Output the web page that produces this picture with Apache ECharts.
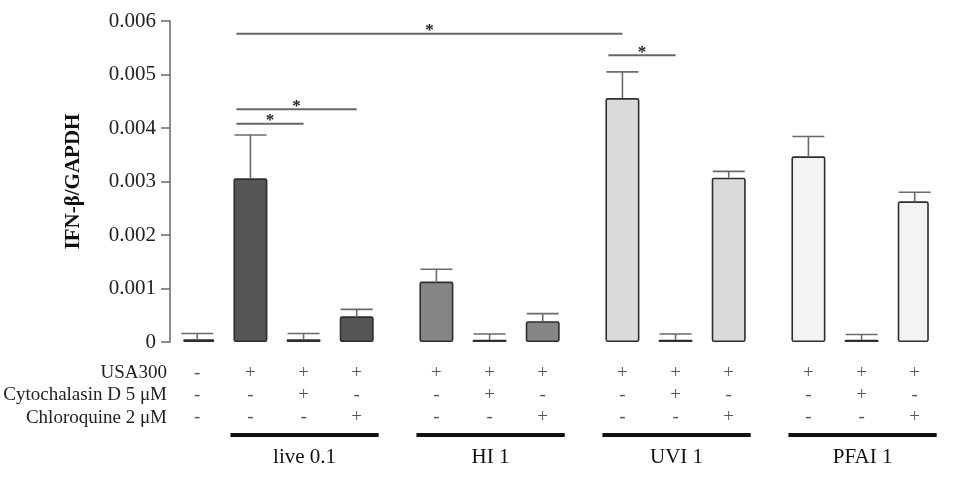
<!DOCTYPE html>
<html>
<head>
<meta charset="utf-8">
<title>IFN-β/GAPDH</title>
<script src="https://cdn.jsdelivr.net/npm/echarts@6/dist/echarts.min.js"></script>
<style>
  html, body { margin: 0; padding: 0; background: #fff; }
  #chart { width: 957px; height: 478px; }
</style>
</head>
<body>
<div id="chart"></div>
<script>
// IFN-β/GAPDH po stimulaci USA300 — 13 sloupců ve 4 skupinách + kontrola.
// Hodnoty (průměr a horní chybová úsečka).

const groupNames = ['live 0.1', 'HI 1', 'UVI 1', 'PFAI 1'];
const rowLabels = ['USA300', 'Cytochalasin D 5 μM', 'Chloroquine 2 μM'];

// jeden prvek na sloupec
const usa300       = ['-', '+', '+', '+', '+', '+', '+', '+', '+', '+', '+', '+', '+'];
const cytochalasin = ['-', '-', '+', '-', '-', '+', '-', '-', '+', '-', '-', '+', '-'];
const chloroquine  = ['-', '-', '-', '+', '-', '-', '+', '-', '-', '+', '-', '-', '+'];
const barGroup     = [-1, 0, 0, 0, 1, 1, 1, 2, 2, 2, 3, 3, 3];   // -1 = neošetřená kontrola
const ifnMean = [0.00005, 0.00306, 0.00005, 0.00048, 0.00113, 0.00004, 0.00039,
                 0.00456, 0.00004, 0.00307, 0.00347, 0.00004, 0.00263];
const ifnErr  = [0.00011, 0.00081, 0.00011, 0.00013, 0.00023, 0.00011, 0.00014,
                 0.00049, 0.00011, 0.00012, 0.00037, 0.00010, 0.00017];

const yTickLabels = ['0', '0.001', '0.002', '0.003', '0.004', '0.005', '0.006'];

// [od sloupce, po sloupec, výška čáry]
const sigBrackets = [
  [1, 7, 0.00576],
  [1, 3, 0.00435],
  [1, 2, 0.00408],
  [7, 8, 0.00536],
];

// --- styl ---
const SERIF = '"Liberation Serif", "DejaVu Serif", serif';
const groupFill = { '-1': '#565656', 0: '#565656', 1: '#858585', 2: '#dadada', 3: '#f3f3f3' };
const BAR_W = 34;

// sloupce v rámci skupiny jsou po 2 pozicích, mezi skupinami o 1 víc
const slotOf = barGroup.map((g, i) => 2 * i + Math.max(g, 0));
const slotCount = slotOf[slotOf.length - 1] + 1;
const slotBar = new Array(slotCount).fill(-1);
slotOf.forEach((s, i) => { slotBar[s] = i; });

const categories = slotBar.map((b, s) => 's' + s);
const axisLabels = slotBar.map(b => b < 0 ? '' : [usa300[b], cytochalasin[b], chloroquine[b]].join('\n'));

const barData = slotBar.map(b => b < 0 ? '-' : {
  value: ifnMean[b],
  itemStyle: { color: groupFill[barGroup[b]] },
});
const errData = ifnMean.map((m, i) => [slotOf[i], m, m + ifnErr[i]]);
const bracketData = sigBrackets.map(([a, b, h]) => [slotOf[a], slotOf[b], h]);

const chart = echarts.init(document.getElementById('chart'));

chart.setOption({
  animation: false,
  backgroundColor: '#fff',
  grid: { left: 184, right: 29, top: 21, bottom: 136 },
  xAxis: {
    type: 'category',
    data: categories,
    axisLine: { show: false },
    axisTick: { show: false },
    axisLabel: {
      interval: 0,
      margin: 20,
      formatter: (v, idx) => axisLabels[idx],
      fontFamily: SERIF,
      fontSize: 19,
      lineHeight: 22,
      color: '#555',
    },
  },
  yAxis: {
    type: 'value',
    min: 0,
    max: 0.006,
    interval: 0.001,
    offset: 14,
    name: 'IFN-β/GAPDH',
    nameLocation: 'middle',
    nameGap: 86,
    nameTextStyle: { fontFamily: SERIF, fontWeight: 'bold', fontSize: 21, color: '#111' },
    axisLine: { show: true, lineStyle: { color: '#6a6a6a', width: 1.5 } },
    axisTick: { show: true, length: 9, lineStyle: { color: '#6a6a6a', width: 1.5 } },
    splitLine: { show: false },
    axisLabel: {
      margin: 14,
      formatter: v => yTickLabels[Math.round(v / 0.001)],
      fontFamily: SERIF,
      fontSize: 21,
      color: '#222',
    },
  },
  series: [
    {
      type: 'bar',
      data: barData,
      barWidth: BAR_W,
      itemStyle: { borderColor: '#2e2e2e', borderWidth: 1.6, borderRadius: 1.5 },
      z: 2,
    },
    {
      type: 'custom',
      data: errData,
      encode: { x: 0, y: [1, 2] },
      z: 3,
      renderItem: (params, api) => {
        const base = api.coord([api.value(0), api.value(1)]);
        const top = api.coord([api.value(0), api.value(2)]);
        const half = BAR_W / 2 - 1;
        const st = { stroke: '#6a6a6a', lineWidth: 1.6 };
        return {
          type: 'group',
          children: [
            { type: 'line', shape: { x1: base[0], y1: base[1], x2: top[0], y2: top[1] }, style: st },
            { type: 'line', shape: { x1: top[0] - half, y1: top[1], x2: top[0] + half, y2: top[1] }, style: st },
          ],
        };
      },
    },
    {
      type: 'custom',
      data: bracketData,
      encode: { x: [0, 1], y: 2 },
      z: 3,
      renderItem: (params, api) => {
        const p1 = api.coord([api.value(0), api.value(2)]);
        const p2 = api.coord([api.value(1), api.value(2)]);
        const x1 = p1[0] - BAR_W / 2 + 3;
        const x2 = p2[0];
        return {
          type: 'group',
          children: [
            { type: 'line', shape: { x1, y1: p1[1], x2, y2: p2[1] }, style: { stroke: '#666', lineWidth: 2 } },
            {
              type: 'text',
              style: {
                text: '*', x: (x1 + x2) / 2, y: p1[1] - 3,
                textAlign: 'center', textVerticalAlign: 'middle',
                font: 'bold 17px ' + SERIF, fill: '#222',
              },
            },
          ],
        };
      },
    },
  ],
});

// popisky řádků a čáry skupin pod osou
function px(slot) { return chart.convertToPixel({ xAxisIndex: 0 }, slot); }
const y0 = chart.convertToPixel({ yAxisIndex: 0 }, 0);
const graphics = [];

rowLabels.forEach((t, i) => {
  graphics.push({
    type: 'text',
    style: {
      text: t, x: 167, y: y0 + 31 + i * 22.5,
      textAlign: 'right', textVerticalAlign: 'middle',
      font: '19px ' + SERIF, fill: '#222',
    },
  });
});

groupNames.forEach((name, g) => {
  const bars = barGroup.map((bg, i) => bg === g ? i : -1).filter(i => i >= 0);
  const xa = px(slotOf[bars[0]]) - BAR_W / 2 - 3;
  const xb = px(slotOf[bars[bars.length - 1]]) + BAR_W / 2 + 5;
  graphics.push({
    type: 'rect',
    shape: { x: xa, y: y0 + 91, width: xb - xa, height: 4 },
    style: { fill: '#111' },
  });
  graphics.push({
    type: 'text',
    style: {
      text: name, x: (xa + xb) / 2, y: y0 + 115,
      textAlign: 'center', textVerticalAlign: 'middle',
      font: '21px ' + SERIF, fill: '#111',
    },
  });
});

chart.setOption({ graphic: graphics });
</script>
</body>
</html>
